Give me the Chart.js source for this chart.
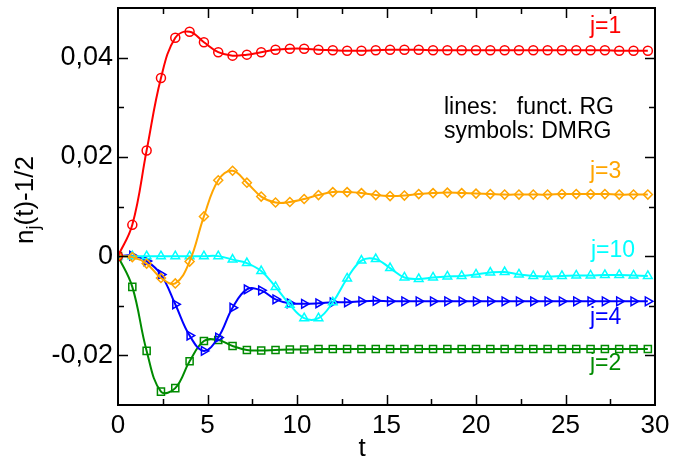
<!DOCTYPE html>
<html lang="en">
<head>
<meta charset="UTF-8">
<title>n_j(t)-1/2</title>
<style>
  html, body { margin: 0; padding: 0; background: #fff; }
</style>
</head>
<body>
<canvas id="chart" width="673" height="458"></canvas>
<script src="https://cdn.jsdelivr.net/npm/chart.js"></script>
<script>
// time grid of the DMRG symbols
const times = [0, 0.8, 1.6, 2.4, 3.2, 4, 4.8, 5.6, 6.4, 7.2, 8, 8.8, 9.6, 10.4, 11.2, 12, 12.8, 13.6, 14.4,
  15.2, 16, 16.8, 17.6, 18.4, 19.2, 20, 20.8, 21.6, 22.4, 23.2, 24, 24.8, 25.6, 26.4, 27.2, 28, 28.8, 29.6];

const site1 = [0, 0.0063, 0.0213, 0.0359, 0.0440, 0.0452, 0.0431, 0.0411, 0.0404, 0.0406, 0.0411, 0.0416, 0.0418,
  0.0418, 0.0416, 0.0415, 0.0414, 0.0414, 0.0415, 0.0416, 0.0416, 0.0416, 0.0415, 0.0415, 0.0415, 0.0415, 0.0415,
  0.0415, 0.0415, 0.0415, 0.0415, 0.0415, 0.0415, 0.0415, 0.0415, 0.0414, 0.0414, 0.0414];
const site2 = [0, -0.0062, -0.0191, -0.0273, -0.0266, -0.0212, -0.0171, -0.0169, -0.0181, -0.0189, -0.0190, -0.0189,
  -0.0188, -0.0188, -0.0187, -0.0187, -0.0187, -0.0187, -0.0187, -0.0187, -0.0187, -0.0187, -0.0187, -0.0187, -0.0187,
  -0.0187, -0.0187, -0.0187, -0.0187, -0.0187, -0.0187, -0.0187, -0.0187, -0.0187, -0.0187, -0.0187, -0.0187, -0.0187];
const site3 = [0, -0.0002, -0.0015, -0.0044, -0.0055, -0.0011, 0.0080, 0.0153, 0.0172, 0.0148, 0.0120, 0.0108,
  0.0109, 0.0115, 0.0123, 0.0129, 0.0129, 0.0127, 0.0123, 0.0121, 0.0122, 0.0125, 0.0127, 0.0128, 0.0127, 0.0126,
  0.0125, 0.0124, 0.0124, 0.0124, 0.0124, 0.0125, 0.0125, 0.0125, 0.0125, 0.0124, 0.0124, 0.0124];
const site4 = [0, 0.0001, -0.0010, -0.0037, -0.0097, -0.0160, -0.0191, -0.0164, -0.0104, -0.0067, -0.0069, -0.0087,
  -0.0095, -0.0096, -0.0095, -0.0093, -0.0093, -0.0091, -0.0090, -0.0091, -0.0091, -0.0091, -0.0091, -0.0091, -0.0091,
  -0.0091, -0.0091, -0.0091, -0.0091, -0.0091, -0.0091, -0.0091, -0.0091, -0.0091, -0.0091, -0.0091, -0.0091, -0.0091];
const site10 = [0, 0, 0, 0, 0, 0, 0, 0, -0.0007, -0.0014, -0.0030, -0.0062, -0.0098, -0.0125, -0.0125, -0.0093,
  -0.0045, -0.0009, -0.0006, -0.0024, -0.0043, -0.0046, -0.0043, -0.0041, -0.0040, -0.0037, -0.0033, -0.0032,
  -0.0037, -0.0040, -0.0041, -0.0040, -0.0039, -0.0039, -0.0038, -0.0038, -0.0039, -0.0040];

const xLabelValues = [0, 5, 10, 15, 20, 25, 30];
const yLabelValues = [-0.02, 0, 0.02, 0.04];
const yLabelText = ['-0,02', '0', '0,02', '0,04'];

const FONT = '"Liberation Sans", Arial, Helvetica, sans-serif';

function pts(ys) {
  return times.map((t, i) => ({ x: t, y: ys[i] }));
}

function series(label, ys, color, style, rot, r) {
  return {
    label: label,
    data: pts(ys),
    borderColor: color,
    backgroundColor: 'rgba(0,0,0,0)',
    borderWidth: 2,
    tension: 0.4,
    pointStyle: style,
    pointRotation: rot,
    pointRadius: r,
    pointBorderWidth: 1.5,
    pointBorderColor: color,
    pointBackgroundColor: 'rgba(0,0,0,0)'
  };
}

const labels = [
  { text: 'j=1', color: '#ff0000', x: 590, y: 27 },
  { text: 'j=3', color: '#ffa500', x: 590, y: 172 },
  { text: 'j=10', color: '#00ffff', x: 591, y: 251 },
  { text: 'j=4', color: '#0000ff', x: 590, y: 318 },
  { text: 'j=2', color: '#008b00', x: 590, y: 364 }
];

const frame = {
  id: 'frame',
  afterDatasetsDraw(chart) {
    const ctx = chart.ctx;
    const a = chart.chartArea;
    const xs = chart.scales.x, ys = chart.scales.y;
    ctx.save();
    ctx.strokeStyle = '#000';
    ctx.lineWidth = 2;
    ctx.strokeRect(a.left, a.top, a.right - a.left, a.bottom - a.top);
    ctx.lineWidth = 1.5;
    ctx.beginPath();
    xs.ticks.forEach(tk => {
      const px = Math.round(xs.getPixelForValue(tk.value)) + 0.5;
      if (px <= a.left + 1 || px >= a.right - 1) return;
      const len = xLabelValues.includes(tk.value) ? 10 : 6;
      ctx.moveTo(px, a.bottom); ctx.lineTo(px, a.bottom - len);
      ctx.moveTo(px, a.top); ctx.lineTo(px, a.top + len);
    });
    ys.ticks.forEach(tk => {
      const py = Math.round(ys.getPixelForValue(tk.value)) + 0.5;
      if (py <= a.top + 1 || py >= a.bottom - 1) return;
      const major = yLabelValues.some(v => Math.abs(v - tk.value) < 1e-9);
      const len = major ? 10 : 6;
      ctx.moveTo(a.left, py); ctx.lineTo(a.left + len, py);
      ctx.moveTo(a.right, py); ctx.lineTo(a.right - len, py);
    });
    ctx.stroke();

    ctx.textBaseline = 'middle';
    ctx.textAlign = 'left';
    ctx.font = '23px ' + FONT;
    labels.forEach(l => {
      ctx.fillStyle = l.color;
      ctx.fillText(l.text, l.x, l.y);
    });
    ctx.fillStyle = '#000';
    ctx.font = '23px ' + FONT;
    ctx.fillText('lines:   funct. RG', 444, 108);
    ctx.fillText('symbols: DMRG', 444, 132);

    // x axis title
    ctx.font = '26px ' + FONT;
    ctx.textAlign = 'center';
    ctx.textBaseline = 'alphabetic';
    ctx.fillText('t', 362, 456);

    // y axis title with subscript j
    ctx.translate(33, 200);
    ctx.rotate(-Math.PI / 2);
    ctx.textAlign = 'left';
    const big = '26px ' + FONT, small = '18px ' + FONT;
    ctx.font = big;
    const wN = ctx.measureText('n').width;
    const wRest = ctx.measureText('(t)-1/2').width;
    ctx.font = small;
    const wJ = ctx.measureText('j').width;
    let x0 = -(wN + wJ + wRest) / 2;
    ctx.font = big;
    ctx.fillText('n', x0, 0);
    ctx.font = small;
    ctx.fillText('j', x0 + wN, 6);
    ctx.font = big;
    ctx.fillText('(t)-1/2', x0 + wN + wJ, 0);
    ctx.restore();
  }
};

new Chart(document.getElementById('chart'), {
  type: 'line',
  data: {
    datasets: [
      series('j=1', site1, '#ff0000', 'circle', 0, 4.5),
      series('j=3', site3, '#ffa500', 'rectRot', 0, 4.5),
      series('j=10', site10, '#00ffff', 'triangle', 0, 5),
      series('j=4', site4, '#0000ff', 'triangle', 90, 5),
      series('j=2', site2, '#008b00', 'rect', 0, 5)
    ]
  },
  options: {
    responsive: false,
    animation: false,
    layout: { padding: { top: 8, right: 18, left: 0, bottom: 0 } },
    plugins: { legend: { display: false }, tooltip: { enabled: false } },
    scales: {
      x: {
        type: 'linear',
        min: 0, max: 30,
        grid: { display: false, drawTicks: false },
        border: { display: false },
        ticks: {
          stepSize: 2.5,
          autoSkip: false,
          maxRotation: 0,
          padding: 5,
          color: '#000',
          font: { family: FONT, size: 26 },
          callback: v => xLabelValues.includes(v) ? String(v) : ''
        },
        afterFit: s => { s.height = 53; s.paddingLeft = 0; s.paddingRight = 0; }
      },
      y: {
        type: 'linear',
        min: -0.03, max: 0.05,
        grid: { display: false, drawTicks: false },
        border: { display: false },
        ticks: {
          stepSize: 0.01,
          autoSkip: false,
          padding: 5,
          color: '#000',
          font: { family: FONT, size: 27 },
          callback: v => {
            const i = yLabelValues.findIndex(u => Math.abs(u - v) < 1e-9);
            return i >= 0 ? yLabelText[i] : '';
          }
        },
        afterFit: s => { s.width = 118; s.paddingTop = 0; s.paddingBottom = 0; }
      }
    }
  },
  plugins: [frame]
});
</script>
</body>
</html>
